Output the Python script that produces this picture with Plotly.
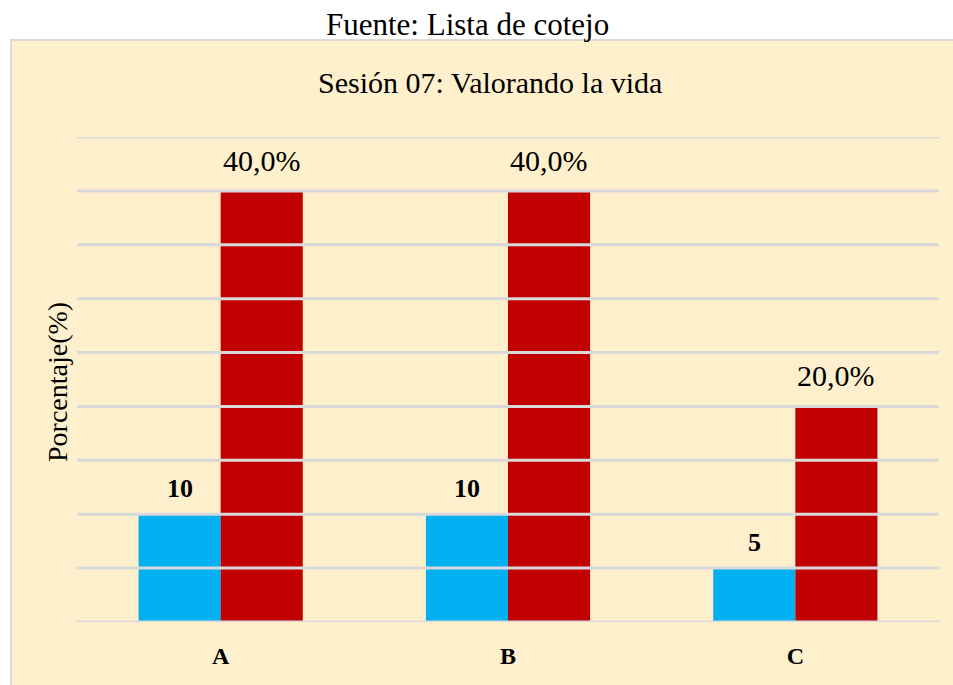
import plotly.graph_objects as go

categories = ["A", "B", "C"]
counts = [10, 10, 5]
percents = [40.0, 40.0, 20.0]
pct_labels = ["40,0%", "40,0%", "20,0%"]
grid_values = [0, 5, 10, 15, 20, 25, 30, 35, 40, 45]

title_text = "Sesión 07: Valorando la vida"
source_text = "Fuente: Lista de cotejo"
y_title = "Porcentaje(%)"

FONT = "Liberation Serif, Times New Roman, serif"
W, H = 953, 685
ML, MR, MT, MB = 77, 14, 137, 63
PW = W - ML - MR
PH = H - MT - MB

fig = go.Figure()
fig.add_trace(go.Bar(x=categories, y=counts, marker=dict(color="#00B0F0", line=dict(width=0)), showlegend=False))
fig.add_trace(go.Bar(x=categories, y=percents, marker=dict(color="#C00000", line=dict(width=0)), showlegend=False))


def px_x(p):
    return (p - ML) / PW


def px_y(p):
    return (H - MB - p) / PH


fig.add_shape(type="rect", xref="paper", yref="paper",
              x0=px_x(11), x1=px_x(W + 10), y0=px_y(H + 10), y1=px_y(40),
              fillcolor="#FFF0CD", line=dict(color="#DEDAD0", width=2), layer="below")

for v in grid_values:
    fig.add_shape(type="line", xref="paper", yref="y", x0=0, x1=1, y0=v, y1=v,
                  line=dict(color="#D9D9D9", width=3), layer="above")

bar_half = 41
for c, v in zip(categories, counts):
    fig.add_annotation(x=c, y=v, text="<b>%d</b>" % v, showarrow=False, xref="x", yref="y",
                       xshift=-bar_half, yanchor="bottom", yshift=9,
                       font=dict(family=FONT, size=26, color="black"))
for c, v, t in zip(categories, percents, pct_labels):
    fig.add_annotation(x=c, y=v, text=t, showarrow=False, xref="x", yref="y",
                       xshift=bar_half, yanchor="bottom", yshift=12,
                       font=dict(family=FONT, size=30, color="black"))

fig.add_annotation(x=px_x(467), y=px_y(25), xref="paper", yref="paper", text=source_text,
                   xanchor="center", yanchor="middle",
                   showarrow=False, font=dict(family=FONT, size=31, color="black"))
fig.add_annotation(x=px_x(490), y=px_y(83), xref="paper", yref="paper", text=title_text,
                   xanchor="center", yanchor="middle",
                   showarrow=False, font=dict(family=FONT, size=30, color="black"))
fig.add_annotation(x=px_x(57), y=px_y(382), xref="paper", yref="paper", text=y_title,
                   xanchor="center", yanchor="middle",
                   textangle=-90, showarrow=False, font=dict(family=FONT, size=28, color="black"))

fig.update_layout(
    width=W, height=H,
    margin=dict(l=ML, r=MR, t=MT, b=MB, pad=0),
    paper_bgcolor="white", plot_bgcolor="rgba(0,0,0,0)",
    barmode="group", bargap=0.4286, bargroupgap=0,
    showlegend=False,
    font=dict(family=FONT),
)
fig.update_xaxes(showgrid=False, zeroline=False, showline=False, ticks="",
                 tickfont=dict(family=FONT, size=24, color="black"),
                 tickprefix="<b>", ticksuffix="</b>", ticklabelstandoff=17)
fig.update_yaxes(range=[0, 45], showgrid=False, zeroline=False, showline=False,
                 showticklabels=False, ticks="")

fig.write_html("out.html", config={"displayModeBar": False},
               post_script="document.body.style.margin='0';")
